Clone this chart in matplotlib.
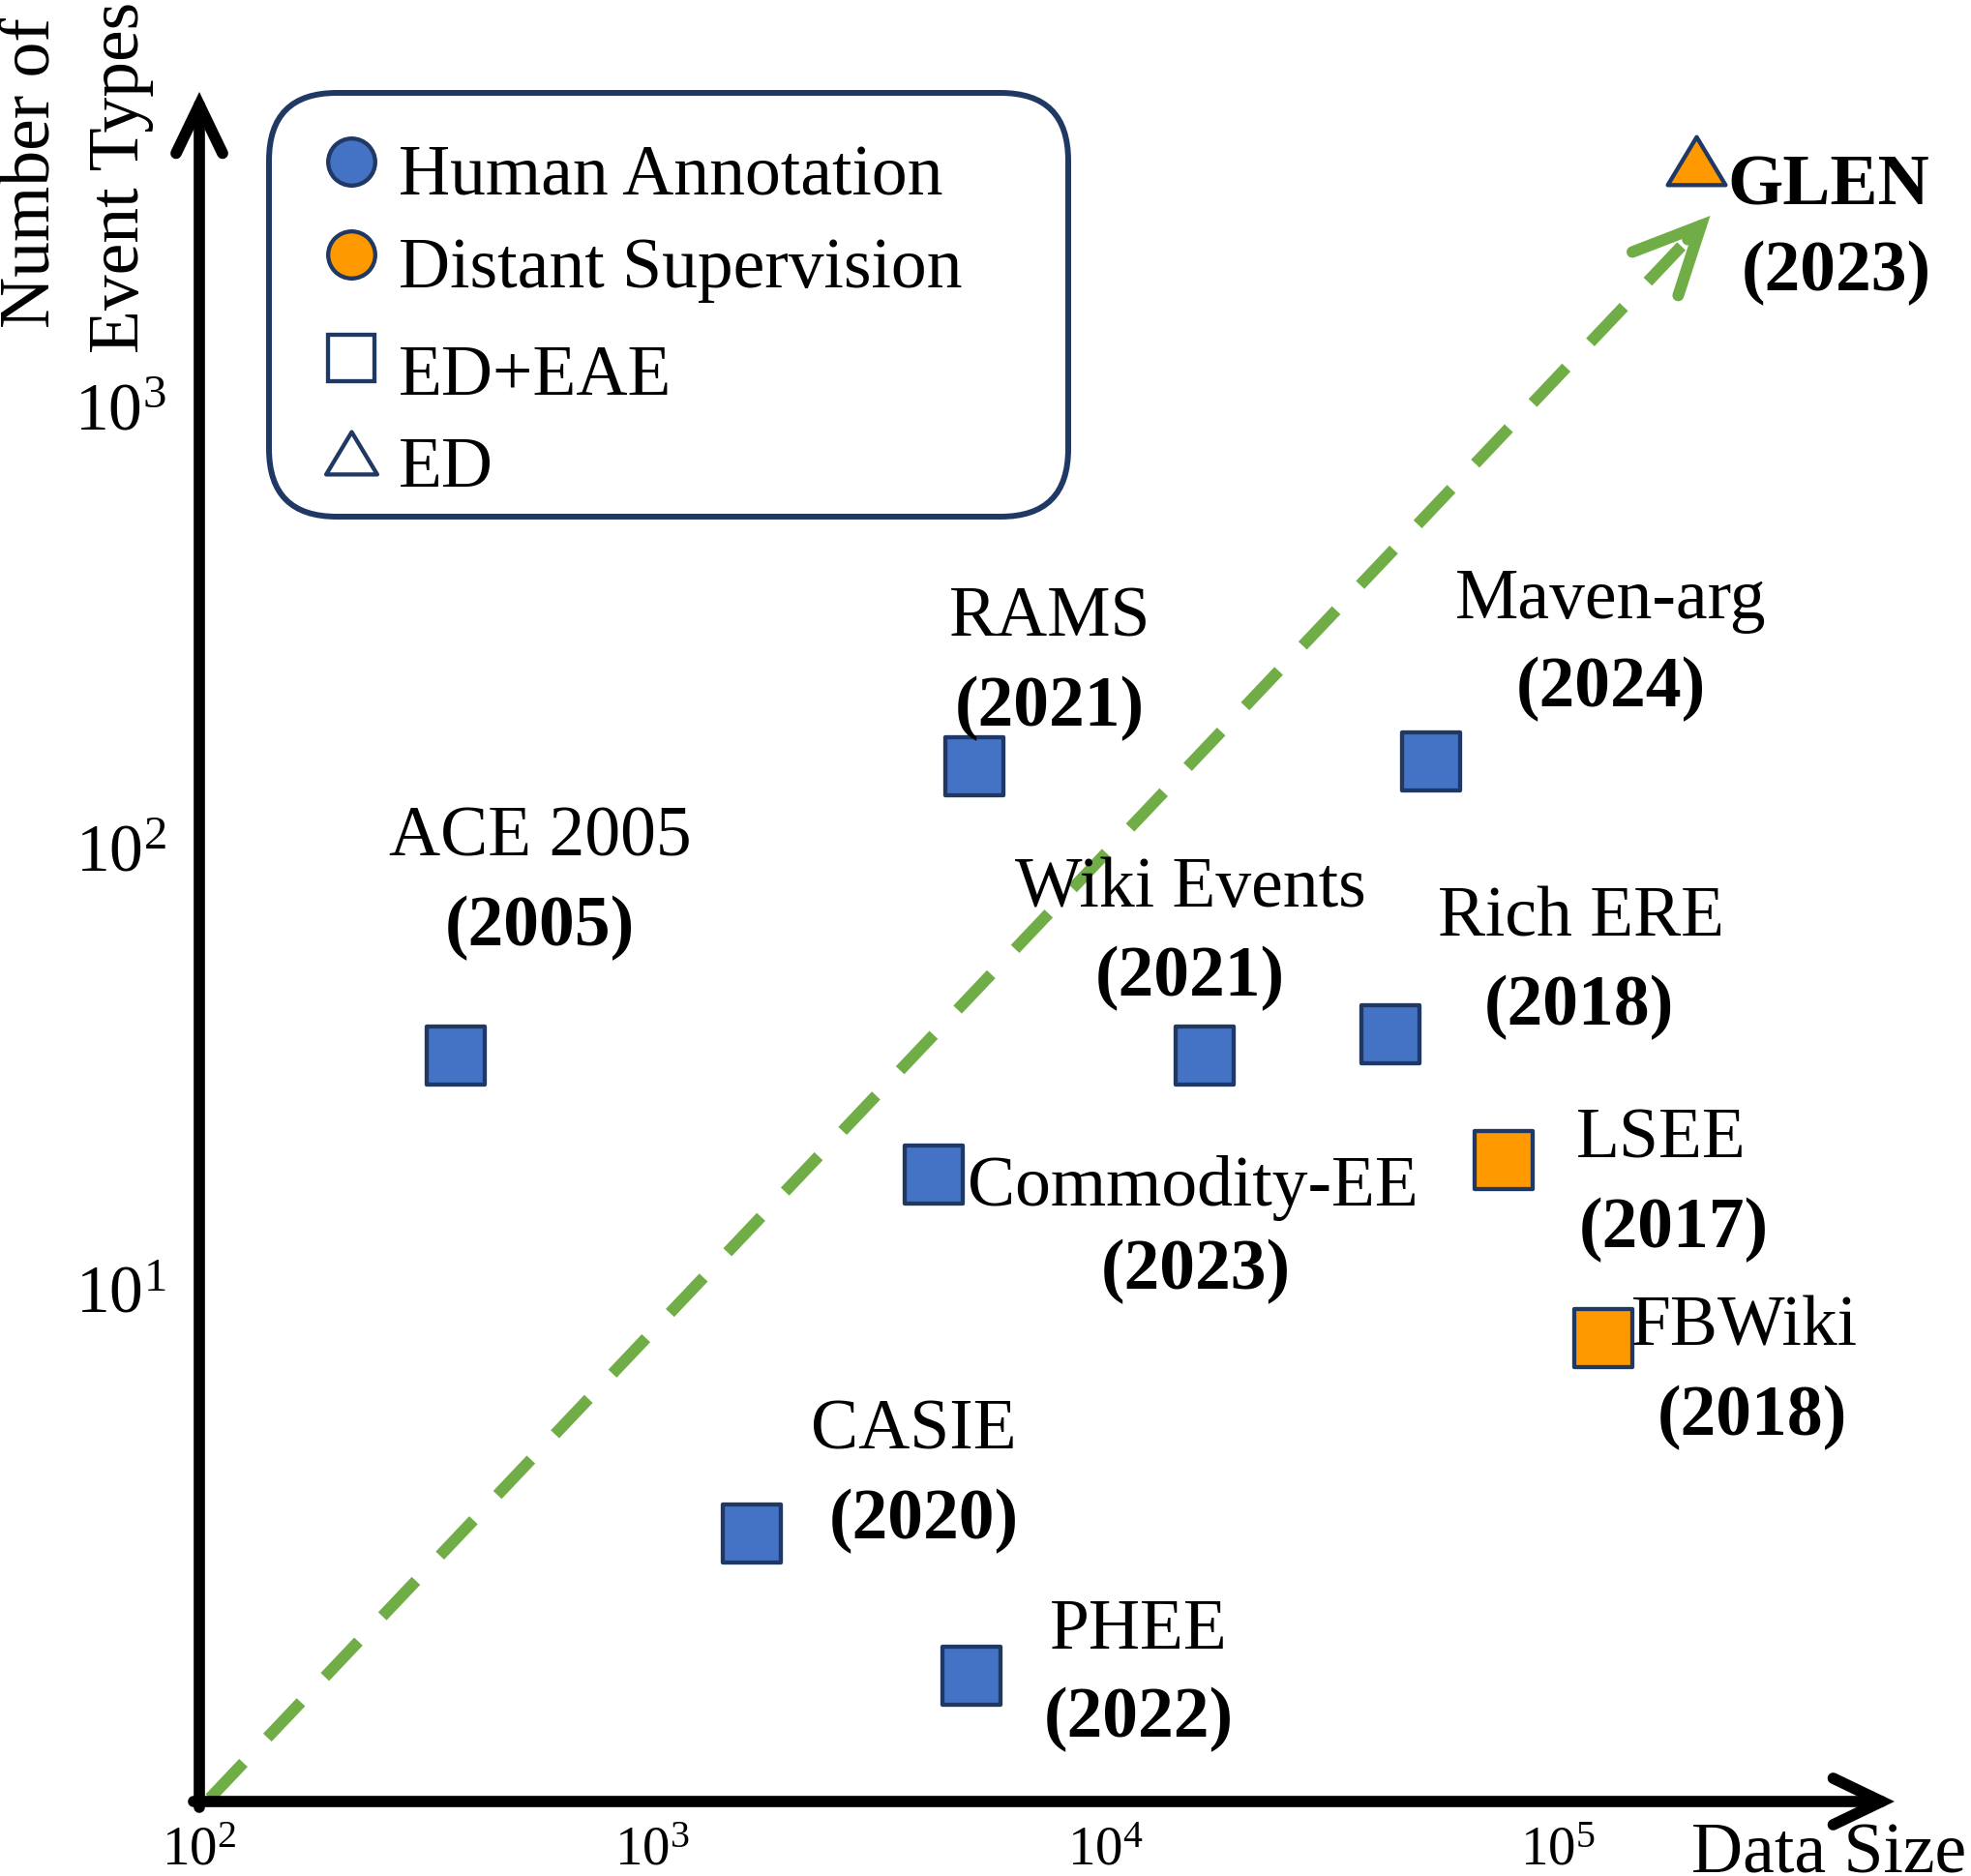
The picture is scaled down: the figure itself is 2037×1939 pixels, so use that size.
import numpy as np
import matplotlib
matplotlib.use("Agg")
import matplotlib.pyplot as plt
import matplotlib.transforms as mtransforms
from matplotlib.patches import FancyBboxPatch
from matplotlib.lines import Line2D
from matplotlib.path import Path
from matplotlib.ticker import NullLocator

plt.rcParams['font.family'] = ['Liberation Serif', 'DejaVu Serif']
plt.rcParams['mathtext.fontset'] = 'custom'
plt.rcParams['mathtext.rm'] = 'Liberation Serif'
plt.rcParams['mathtext.it'] = 'Liberation Serif:italic'
plt.rcParams['mathtext.bf'] = 'Liberation Serif:bold'

# ---------------- data ----------------
datasets = ["ACE 2005", "RAMS", "Maven-arg", "Wiki Events", "Rich ERE", "LSEE",
            "Commodity-EE", "FBWiki", "CASIE", "PHEE", "GLEN"]
years = ["(2005)", "(2021)", "(2024)", "(2021)", "(2018)", "(2017)",
         "(2023)", "(2018)", "(2020)", "(2022)", "(2023)"]
data_size = [368, 5140, 52400, 16600, 42700, 75700, 4180, 126000, 1660, 5060, 202000]
num_event_types = [33.7, 153, 157, 33.7, 37.8, 19.6, 18.1, 7.73, 2.79, 1.33, 3600]
annotation = ["Human Annotation", "Human Annotation", "Human Annotation", "Human Annotation",
              "Human Annotation", "Distant Supervision", "Human Annotation",
              "Distant Supervision", "Human Annotation", "Human Annotation",
              "Distant Supervision"]
task = ["ED+EAE"] * 10 + ["ED"]

trend_x = [105.5, 216600]
trend_y = [0.70, 2704]

x_ticks = [1e2, 1e3, 1e4, 1e5]
x_tick_labels = [r'$\mathregular{10^{2}}$', r'$\mathregular{10^{3}}$',
                 r'$\mathregular{10^{4}}$', r'$\mathregular{10^{5}}$']
y_ticks = [1e1, 1e2, 1e3]
y_tick_labels = [r'$\mathregular{10^{1}}$', r'$\mathregular{10^{2}}$',
                 r'$\mathregular{10^{3}}$']

legend_labels = ["Human Annotation", "Distant Supervision", "ED+EAE", "ED"]

# ---------------- style ----------------
BLUE = '#4472C4'
ORANGE = '#FF9900'
NAVY = '#1F3864'
GREEN = '#70AD47'
fill_colors = {"Human Annotation": BLUE, "Distant Supervision": ORANGE}
tri = Path([(-1, -0.83), (1, -0.83), (0, 0.83), (-1, -0.83)], closed=True)
markers = {"ED+EAE": 's', "ED": tri}
FS = 53

# label offsets in pixels (dx, dy downward to baseline), name then year
name_off = [(87, -207), (78, -134), (186, -148), (-15, -154), (197, -101), (163, -2),
            (35, 32), (29, 8), (167, -87), (173, -28), (136, 45)]
name_ha = ['center'] * 6 + ['left', 'left'] + ['center'] * 3
year_off = [(87, -114), (78, -42), (186, -56), (-15, -62), (195, -9), (176, 90),
            (271, 118), (154, 100), (178, 5), (173, 64), (144, 134)]

W, H = 2037, 1939
fig = plt.figure(figsize=(W / 100, H / 100), dpi=100)
px = mtransforms.Affine2D().scale(1 / W, -1 / H).translate(0, 1) + fig.transFigure

# axes geometry (pixels from top-left)
L, R, B, T = 206, 1958, 1862, 95
ax = fig.add_axes([L / W, (H - B) / H, (R - L) / W, (B - T) / H])
ax.set_xscale('log')
ax.set_yscale('log')
X0, XD = 199, 470   # pixel of 10^2, pixels per decade
Y1, YD = 1332, 456  # pixel of 10^1, pixels per decade
ax.set_xlim(10 ** (2 + (L - X0) / XD), 10 ** (2 + (R - X0) / XD))
ax.set_ylim(10 ** (1 - (B - Y1) / YD), 10 ** (1 + (Y1 - T) / YD))
for s in ax.spines.values():
    s.set_visible(False)
ax.patch.set_visible(False)

ax.set_xticks(x_ticks, x_tick_labels)
ax.set_yticks(y_ticks, y_tick_labels)
ax.xaxis.set_minor_locator(NullLocator())
ax.yaxis.set_minor_locator(NullLocator())
ax.tick_params(axis='x', length=0, pad=18, labelsize=41)
ax.tick_params(axis='y', length=0, pad=25, labelsize=50)

# axes arrows
axis_lw = 8.4
ax.annotate('', xy=(1, 0), xytext=(-6 / (R - L), 0), xycoords='axes fraction',
            textcoords='axes fraction', annotation_clip=False,
            arrowprops=dict(arrowstyle='->,head_length=36,head_width=17.3',
                            mutation_scale=1, lw=axis_lw, color='black',
                            shrinkA=0, shrinkB=0, capstyle='round', joinstyle='miter'))
ax.annotate('', xy=(0, 1), xytext=(0, -6 / (B - T)), xycoords='axes fraction',
            textcoords='axes fraction', annotation_clip=False,
            arrowprops=dict(arrowstyle='->,head_length=36,head_width=17.3',
                            mutation_scale=1, lw=axis_lw, color='black',
                            shrinkA=0, shrinkB=0, capstyle='round', joinstyle='miter'))

# trend arrow (dashed shaft + solid head)
lx = np.log10(trend_x)
ly = np.log10(trend_y)
f = 0.985
hx = 10 ** (lx[0] + f * (lx[1] - lx[0]))
hy = 10 ** (ly[0] + f * (ly[1] - ly[0]))
ax.plot([trend_x[0], hx], [trend_y[0], hy], color=GREEN, lw=8.64,
        linestyle=(0, (4.2, 3.0)), dash_capstyle='butt', zorder=2, clip_on=False)
ax.annotate('', xy=(trend_x[1], trend_y[1]), xytext=(hx, hy), annotation_clip=False,
            arrowprops=dict(arrowstyle='->,head_length=49.4,head_width=23.5',
                            mutation_scale=1, lw=8.64, color=GREEN,
                            shrinkA=0, shrinkB=0, capstyle='round', joinstyle='miter'),
            zorder=2)

# data points
for i in range(len(datasets)):
    ax.scatter([data_size[i]], [num_event_types[i]], s=1806 if task[i] == 'ED+EAE' else 1850,
               marker=markers[task[i]], facecolor=fill_colors[annotation[i]],
               edgecolor=NAVY, linewidths=3.1, zorder=4, clip_on=False)
    ax.annotate(datasets[i], xy=(data_size[i], num_event_types[i]),
                xytext=(name_off[i][0], -name_off[i][1]), textcoords='offset pixels',
                ha=name_ha[i], va='baseline', fontsize=FS,
                fontweight='bold' if task[i] == 'ED' else 'normal', zorder=5)
    ax.annotate(years[i], xy=(data_size[i], num_event_types[i]),
                xytext=(year_off[i][0], -year_off[i][1]), textcoords='offset pixels',
                ha='center', va='baseline', fontsize=FS, fontweight='bold', zorder=5)

# axis titles
fig.text(51 / W, 1 - 179 / H, "Number of", rotation=90, rotation_mode='anchor',
         ha='center', va='baseline', fontsize=FS)
fig.text(143 / W, 1 - 183 / H, "Event Types", rotation=90, rotation_mode='anchor',
         ha='center', va='baseline', fontsize=FS)
fig.text(1748 / W, 1 - 1935 / H, "Data Size", ha='left', va='baseline', fontsize=FS)

# legend (manual, rounded frame)
box = FancyBboxPatch((278, 96), 826, 438, boxstyle='round,pad=0,rounding_size=70',
                     transform=px, facecolor='white', edgecolor=NAVY, lw=4.3,
                     mutation_scale=1, zorder=6)
fig.add_artist(box)
leg_y = [167, 263, 370, 468]
leg_base = [202, 297, 408, 503]
leg_handles = [
    dict(marker='o', markersize=35, markerfacecolor=BLUE),
    dict(marker='o', markersize=35, markerfacecolor=ORANGE),
    dict(marker='s', markersize=35, markerfacecolor='white'),
    dict(marker=tri, markersize=38, markerfacecolor='white'),
]
for lab, yc, yb, hd in zip(legend_labels, leg_y, leg_base, leg_handles):
    ln = Line2D([363], [yc], transform=px, linestyle='none', markeredgecolor=NAVY,
                markeredgewidth=3.1, zorder=7, **hd)
    fig.add_artist(ln)
    fig.text(412 / W, 1 - yb / H, lab, ha='left', va='baseline', fontsize=FS, zorder=7)

fig.savefig('out.png', dpi=100)
